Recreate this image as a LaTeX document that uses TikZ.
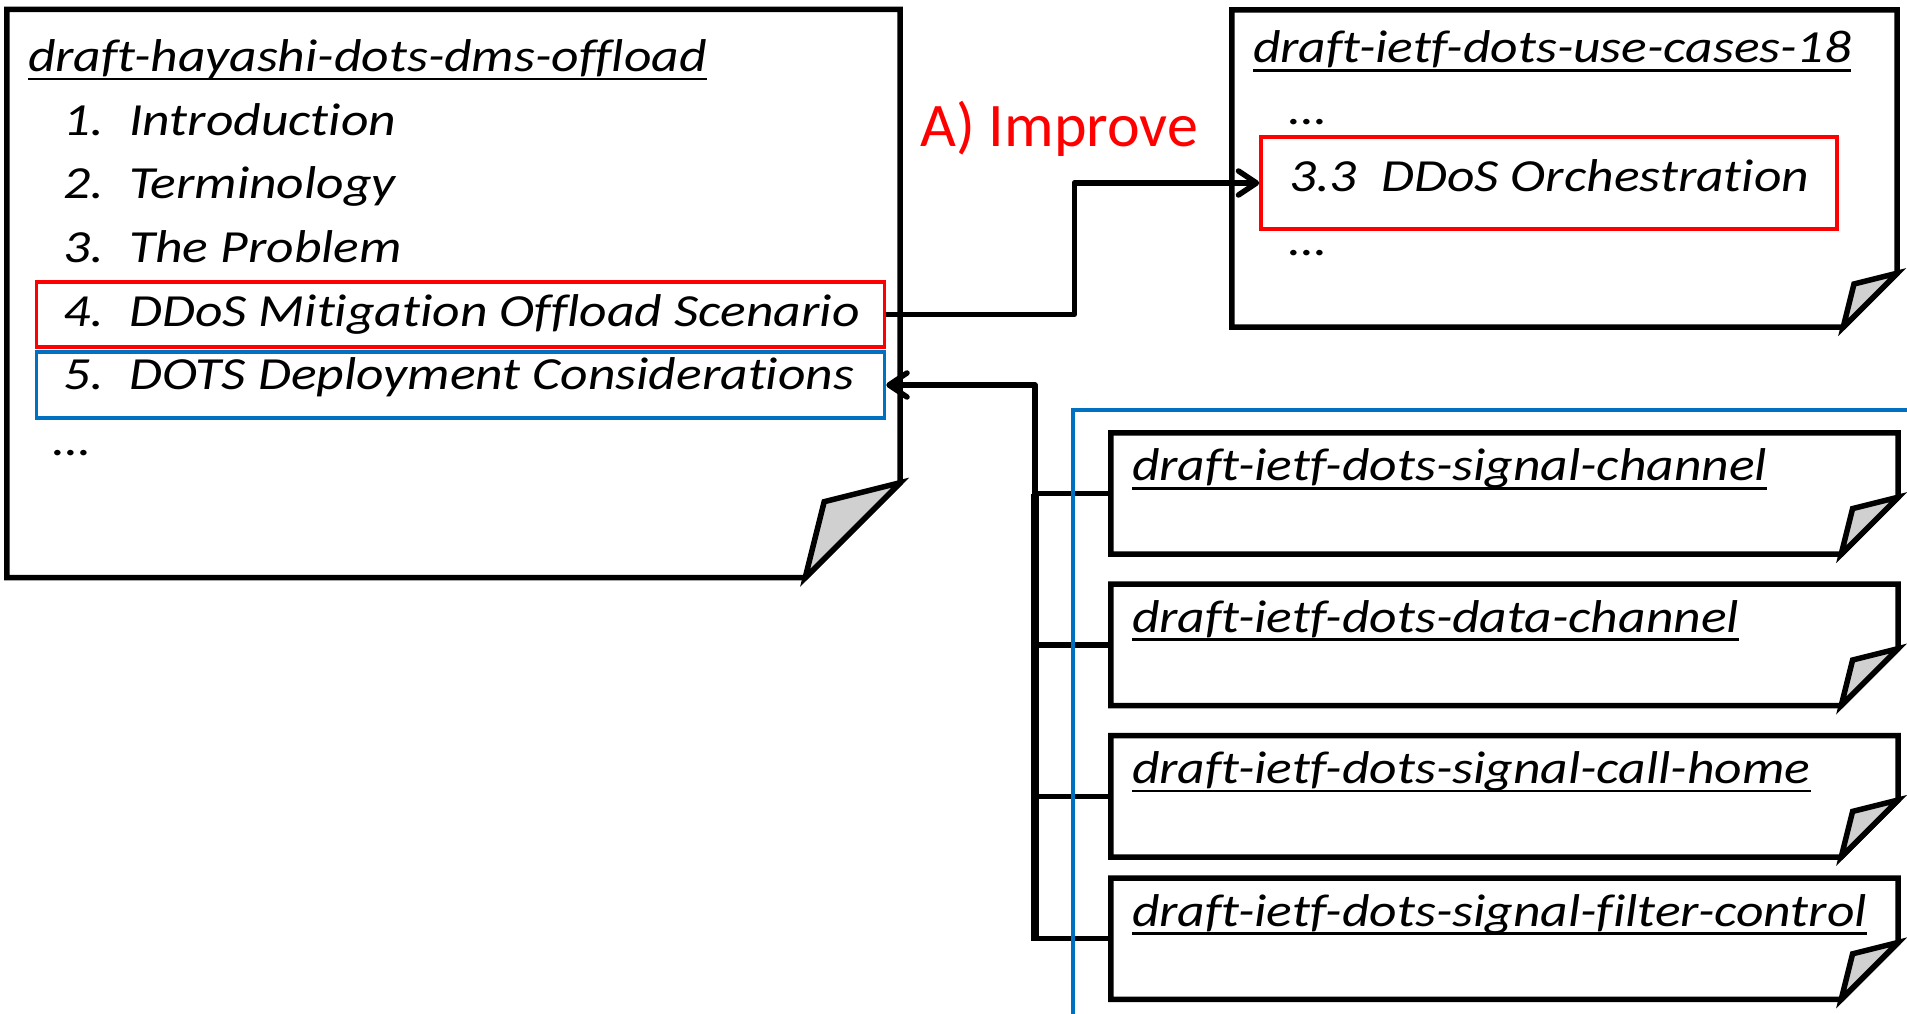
\documentclass[tikz,border=0pt]{standalone}
\usepackage{fontspec}
\setmainfont{Carlito}
\newfontfamily\docfamily{Carlito}[FakeStretch=1.165, Ligatures=NoCommon]
\usepackage{tikz}
\usetikzlibrary{positioning, arrows.meta}
\definecolor{hlred}{RGB}{255,0,0}
\definecolor{hlblue}{RGB}{0,112,192}
\definecolor{foldgray}{RGB}{208,208,208}
\newcommand{\docfont}{\docfamily\fontsize{46}{55}\selectfont\itshape}
\newcommand{\docul}[1]{\setbox0\hbox{#1}\rlap{\rule[-8.75pt]{\wd0}{2.5pt}}\box0}
\tikzstyle{doc} = [rectangle, inner sep=0pt, minimum width=787pt, minimum height=121pt]
\tikzstyle{docline} = [line width=5.5pt]
\tikzstyle{hl} = [draw, rectangle, line width=3.5pt, inner sep=0pt]
\tikzstyle{item} = [anchor=base west, inner sep=0pt, font=\docfont]
\newcommand{\foldeddoc}[2]{%
  \draw [docline] (#1.north west) -- (#1.north east)
    -- ([yshift=#2pt]#1.south east) coordinate (#1-fa)
    -- ([xshift=-#2pt]#1.south east) coordinate (#1-fb)
    -- (#1.south west) -- cycle;
  \draw [docline, fill=foldgray] (#1-fa) -- ++(-0.8*#2, 0.2*#2) -- (#1-fb) -- cycle;}

\begin{document}
\begin{tikzpicture}[auto, x=1pt, y=-1pt, >={Straight Barb[length=18pt, width=24pt, round]}]
    % 样式
    \tikzstyle{conn} = [line width=5.5pt, line join=round]
    \tikzstyle{bus} = [line width=8pt]
    \useasboundingbox (0,0) rectangle (1907,1014);

    % 文档框
    \node [doc, minimum width=893pt, minimum height=568pt] (hayashi) at (453.5,293.5) {};
    \node [doc, minimum width=665pt, minimum height=317pt] (usecases) at (1564.5,168.5) {};
    \node [doc] (sigch) at (1504.5,493.5) {};
    \node [doc, below=30pt of sigch] (datach) {};
    \node [doc, below=30pt of datach] (callhome) {};
    \node [doc, below=21pt of callhome] (filter) {};
    \foldeddoc{hayashi}{95}
    \foldeddoc{usecases}{54}
    \foreach \d in {sigch, datach, callhome, filter}
        \foldeddoc{\d}{57};

    % 左边文档的内容
    \node [item] (t0) at ([xshift=21pt, yshift=-62pt]hayashi.north west) {\docul{draft-hayashi-dots-dms-offload}};
    \foreach \t [count=\i] in {Introduction, Terminology, The Problem,
        DDoS Mitigation Offload Scenario, DOTS Deployment Considerations}
        \node [item] (sec\i) at (63, {72+63.5*\i}) {\makebox[66pt][l]{\i.}\t};
    \node [item] (more) at (53,455) {…};
    \node [hl, draw=hlred, minimum width=848pt, minimum height=65pt] (hl4) at (460.5,314.5) {};
    \node [hl, draw=hlblue, minimum width=848pt, minimum height=66pt] (hl5) at (460.5,385) {};

    % 右上文档
    \node [item] (t1) at ([xshift=21pt, yshift=-53pt]usecases.north west) {\docul{draft-ietf-dots-use-cases-18}};
    \node [item] (dots1) at (1289,125) {…};
    \node [hl, draw=hlred, minimum width=576pt, minimum height=92pt] (hl33) at (1549,183) {};
    \node [item] (sec33) at (1289,192) {\makebox[92pt][l]{3.3}DDoS Orchestration};
    \node [item] (dots2) at (1289,255) {…};
    \node [anchor=base west, inner sep=0pt, text=hlred, font=\fontsize{62}{70}\selectfont] (improve) at (920,147) {A) Improve};

    % 右下文档
    \node [item] (t2) at ([xshift=21pt, yshift=-48pt]sigch.north west) {\docul{draft-ietf-dots-signal-channel}};
    \node [item] (t3) at ([xshift=21pt, yshift=-48pt]datach.north west) {\docul{draft-ietf-dots-data-channel}};
    \node [item] (t4) at ([xshift=21pt, yshift=-48pt]callhome.north west) {\docul{draft-ietf-dots-signal-call-home}};
    \node [item] (t5) at ([xshift=21pt, yshift=-48pt]filter.north west) {\docul{draft-ietf-dots-signal-filter-control}};

    % 连线
    \draw [conn, ->] (hl4.east) -- ++(188,0) |- (hl33.west);
    \coordinate (bustop) at (1035,385);
    \draw [bus] (bustop |- sigch.west) -- ([yshift=-2pt]bustop |- filter.west);
    \draw [conn, ->] (bustop |- sigch.west) -- (bustop) -- (hl5.east);
    \foreach \d in {sigch, datach, callhome, filter}
        \draw [conn] (bustop |- \d.west) -- (\d.west);
    \draw [line width=4pt, hlblue] (1073,1014) -- (1073,410) -- (1907,410);
\end{tikzpicture}
\end{document}
